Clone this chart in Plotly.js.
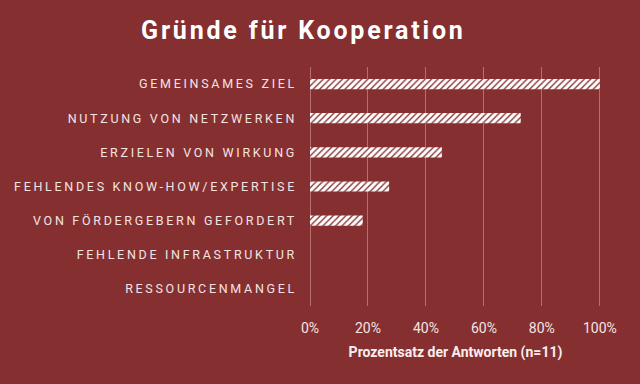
<!DOCTYPE html>
<html>
<head>
<meta charset="utf-8">
<script src="https://cdn.plot.ly/plotly-3.0.1.min.js"></script>
<style>
html,body{margin:0;padding:0;background:#862F30;}
#chart{width:640px;height:384px;}
.ytick text{letter-spacing:2.7px;}
.gtitle{letter-spacing:2.8px;}
</style>
</head>
<body>
<div id="chart"></div>
<script>
const categories = [
  "GEMEINSAMES ZIEL",
  "NUTZUNG VON NETZWERKEN",
  "ERZIELEN VON WIRKUNG",
  "FEHLENDES KNOW-HOW/EXPERTISE",
  "VON FÖRDERGEBERN GEFORDERT",
  "FEHLENDE INFRASTRUKTUR",
  "RESSOURCENMANGEL"
];
const percentages = [100, 72.7, 45.5, 27.3, 18.2, 0, 0];
const xTickValues = [0, 20, 40, 60, 80, 100];
const xTickLabels = ["0%", "20%", "40%", "60%", "80%", "100%"];

const bg = "#862F30";
const trace = {
  type: "bar",
  orientation: "h",
  y: categories,
  x: percentages,
  width: 0.3,
  marker: {
    color: "#FFFFFF",
    line: {width: 0},
    pattern: {shape: "/", bgcolor: "#FFFFFF", fgcolor: bg, size: 4.5, solidity: 0.3, fillmode: "replace"}
  },
  hoverinfo: "none"
};

const layout = {
  width: 640, height: 384,
  paper_bgcolor: bg, plot_bgcolor: bg,
  margin: {l: 310, r: 39, t: 67, b: 78},
  showlegend: false,
  title: {
    text: "<b>Gründe für Kooperation</b>",
    font: {family: "Roboto, sans-serif", size: 25, color: "#FFFFFF"},
    x: 0.474, xanchor: "center", y: 0.92, yanchor: "middle"
  },
  xaxis: {
    range: [0, 100.4],
    tickvals: xTickValues,
    ticktext: xTickLabels,
    showgrid: true,
    gridcolor: "rgba(230,175,175,0.5)",
    gridwidth: 1,
    zeroline: true,
    zerolinecolor: "rgba(230,175,175,0.5)",
    zerolinewidth: 1,
    showline: false,
    ticks: "",
    ticklabelstandoff: 12,
    tickfont: {family: "Roboto, sans-serif", size: 14, color: "#F3E3E3"},
    title: {
      text: "<b>Prozentsatz der Antworten (n=11)</b>",
      font: {family: "Roboto, sans-serif", size: 14, color: "#F8EEEE"},
      standoff: 12
    },
    fixedrange: true
  },
  yaxis: {
    autorange: "reversed",
    type: "category",
    showgrid: false,
    zeroline: false,
    showline: false,
    ticks: "",
    ticklabelstandoff: 12,
    tickfont: {family: "Roboto, DejaVu Sans, sans-serif", size: 12.5, color: "#F3E3E3"},
    fixedrange: true
  },
  bargap: 0.7
};

Plotly.newPlot("chart", [trace], layout, {displayModeBar: false, staticPlot: true});
</script>
</body>
</html>
